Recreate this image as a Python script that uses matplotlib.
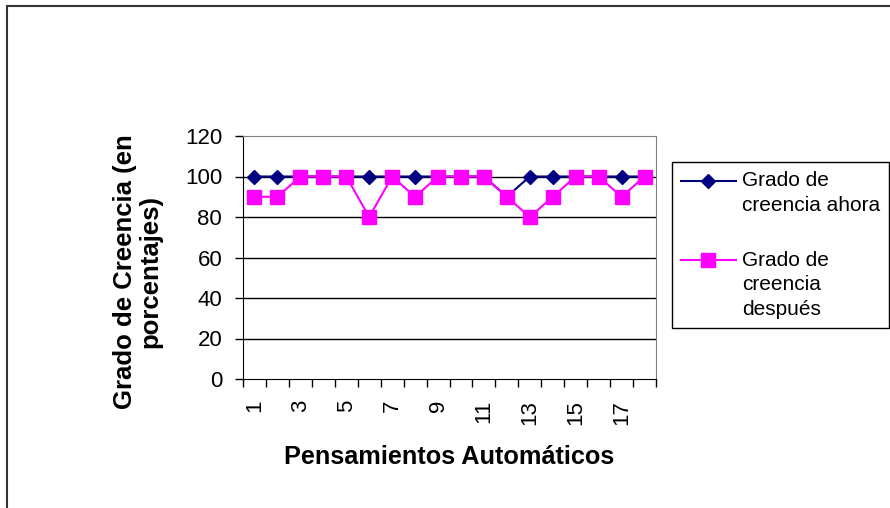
import matplotlib
matplotlib.use("Agg")
import numpy as np
import matplotlib.pyplot as plt
from matplotlib.patches import Rectangle
from matplotlib.legend_handler import HandlerLine2D

plt.rcParams['font.family'] = ['Liberation Sans', 'DejaVu Sans']

categories = list(range(1, 19))
ahora = [100, 100, 100, 100, 100, 100, 100, 100, 100, 100, 100, 90, 100, 100, 100, 100, 100, 100]
despues = [90, 90, 100, 100, 100, 80, 100, 90, 100, 100, 100, 90, 80, 90, 100, 100, 90, 100]
tick_labels = [str(c) if c % 2 == 1 else "" for c in categories]
yticks = [0, 20, 40, 60, 80, 100, 120]
label_ahora = "Grado de\ncreencia ahora"
label_despues = "Grado de\ncreencia\ndespués"

W, H = 890, 508
fig = plt.figure(figsize=(W / 100, H / 100), dpi=100)
# outer chart border (only top/left visible in the reference)
fig.patches.append(Rectangle((6.5 / W, -20 / H), 920 / W, (H + 20 - 5.5) / H,
                             transform=fig.transFigure, fill=False,
                             edgecolor='#333333', linewidth=1.5))
ax = fig.add_axes([243 / W, 1 - 379 / H, (656 - 243) / W, (379 - 136) / H])

for y in yticks[1:-1]:
    ax.axhline(y, color='#000000', linewidth=1, zorder=0.5)

l1, = ax.plot(categories, ahora, color='#000080', marker='D', markersize=6.8,
              linewidth=1.5, label=label_ahora, zorder=3)
l2, = ax.plot(categories, despues, color='#FF00FF', marker='s', markersize=9.5,
              linewidth=1.5, label=label_despues, zorder=4)

ax.set_xlim(0.5, 18.5)
ax.set_ylim(0, 120)
ax.set_yticks(yticks)
ax.set_xticks(categories)
ax.set_xticklabels(tick_labels, rotation=90, fontsize=16)
ax.tick_params(axis='x', which='major', length=0, pad=15)
ax.set_xticks([c + 0.5 for c in [0] + categories], minor=True)
ax.tick_params(axis='x', which='minor', length=6, width=1, direction='out', color='black')
ax.tick_params(axis='y', length=6, width=1, direction='out', labelsize=16, pad=9)

for s in ['top', 'right']:
    ax.spines[s].set_color('#808080')
for s in ['left', 'bottom']:
    ax.spines[s].set_color('black')

ax.set_xlabel("Pensamientos Automáticos", fontsize=18.2, fontweight='bold', va='top')
ax.xaxis.set_label_coords(0.5, -0.27)
ax.set_ylabel("Grado de Creencia (en\nporcentajes)", fontsize=18.5, fontweight='bold',
              linespacing=1.05)
ax.yaxis.set_label_coords(-0.196, 0.442)


class FirstLineHandler(HandlerLine2D):
    def __init__(self, nlines, line_h, **kw):
        super().__init__(**kw)
        self.nlines = nlines
        self.line_h = line_h

    def create_artists(self, legend, orig_handle, xdescent, ydescent, width, height,
                       fontsize, trans):
        artists = super().create_artists(legend, orig_handle, xdescent, ydescent,
                                         width, height, fontsize, trans)
        off = (self.nlines - 1) / 2 * self.line_h
        for a in artists:
            a.set_ydata(np.asarray(a.get_ydata(), dtype=float) + off)
        return artists


line_h = 18.0
leg = fig.legend(handles=[l1, l2], loc='upper left',
                 bbox_to_anchor=(672 / W, 1 - 162 / H), fontsize=15,
                 frameon=True, fancybox=False, edgecolor='black', framealpha=1,
                 handlelength=2.6, handletextpad=0.3, labelspacing=1.75,
                 borderpad=0.45, borderaxespad=0,
                 handler_map={l1: FirstLineHandler(label_ahora.count("\n") + 1, line_h),
                              l2: FirstLineHandler(label_despues.count("\n") + 1, line_h)})
for t in leg.get_texts():
    t.set_linespacing(1.35)
leg.get_frame().set_linewidth(1)

fig.savefig("out.png", dpi=100)
